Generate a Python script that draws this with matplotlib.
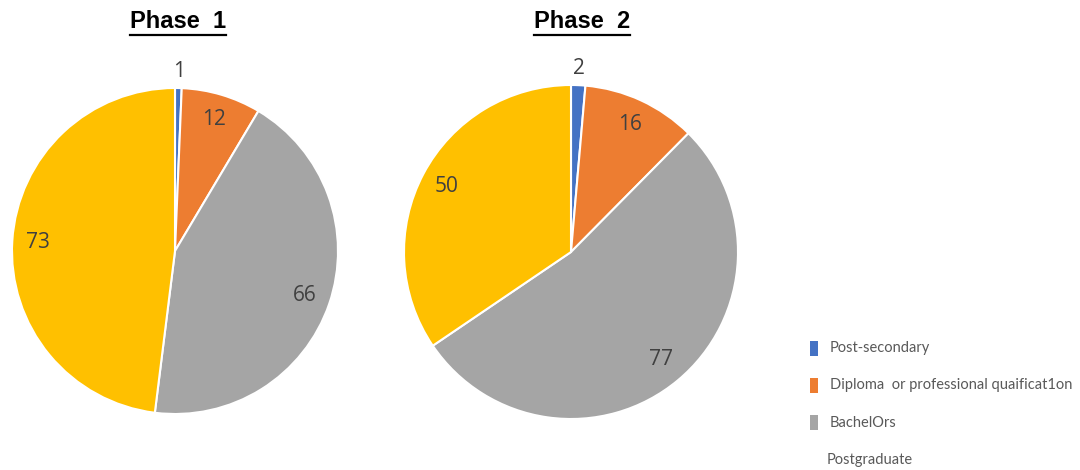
import matplotlib.pyplot as plt
import numpy as np
from matplotlib.lines import Line2D
from matplotlib.patches import Rectangle

W, H = 1080, 470

categories = ["Post-secondary", "Diploma  or professional quaificat1on", "BachelOrs", "Postgraduate"]
phase1 = [1, 12, 66, 73]
phase2 = [2, 16, 77, 50]
titles = ["Phase  1", "Phase  2"]
colors = ["#4472C4", "#ED7D31", "#A5A5A5", "#FFC000"]

fig = plt.figure(figsize=(W / 100, H / 100), dpi=100)


def px_axes(cx, cy, r):
    return fig.add_axes([(cx - r) / W, (H - cy - r) / H, 2 * r / W, 2 * r / H])


def draw_pie(ax, values):
    wedges, _ = ax.pie(values, colors=colors, startangle=90, counterclock=False,
                       wedgeprops=dict(edgecolor="white", linewidth=1.5))
    total = sum(values)
    for w, v in zip(wedges, values):
        ang = np.deg2rad((w.theta1 + w.theta2) / 2)
        dist = 1.1 if v / total < 0.03 else 0.84
        ax.text(dist * np.cos(ang), dist * np.sin(ang), str(v), ha="center", va="center",
                fontsize=15, color="#404040", family="Open Sans")
    ax.set_xlim(-1, 1)
    ax.set_ylim(-1, 1)
    ax.set_aspect("equal")
    ax.axis("off")


ax1 = px_axes(175, 251, 163)
draw_pie(ax1, phase1)
ax2 = px_axes(571, 252, 167)
draw_pie(ax2, phase2)

# underlined bold titles
renderer = fig.canvas.get_renderer()
for tx, title in zip([178, 582], titles):
    t = fig.text(tx / W, 1 - 22 / H, title, ha="center", va="center", fontsize=17,
                 fontweight="bold", family="Liberation Sans", color="black")
    bb = t.get_window_extent(renderer)
    fig.add_artist(Line2D([bb.x0 / W, bb.x1 / W], [1 - 35 / H] * 2, color="black",
                          linewidth=1.6, transform=fig.transFigure))

# legend
for i, (name, c) in enumerate(zip(categories, colors)):
    y = 348 + 37.3 * i
    if i < 3:
        fig.add_artist(Rectangle((810 / W, 1 - (y + 7.5) / H), 8 / W, 15 / H,
                                 facecolor=c, edgecolor="none", transform=fig.transFigure))
        x = 830
    else:
        x = 827
    fig.text(x / W, 1 - y / H, name, ha="left", va="center", fontsize=10.5,
             color="#595959", family="Lato")

fig.savefig("out.png", dpi=100, facecolor="white")
